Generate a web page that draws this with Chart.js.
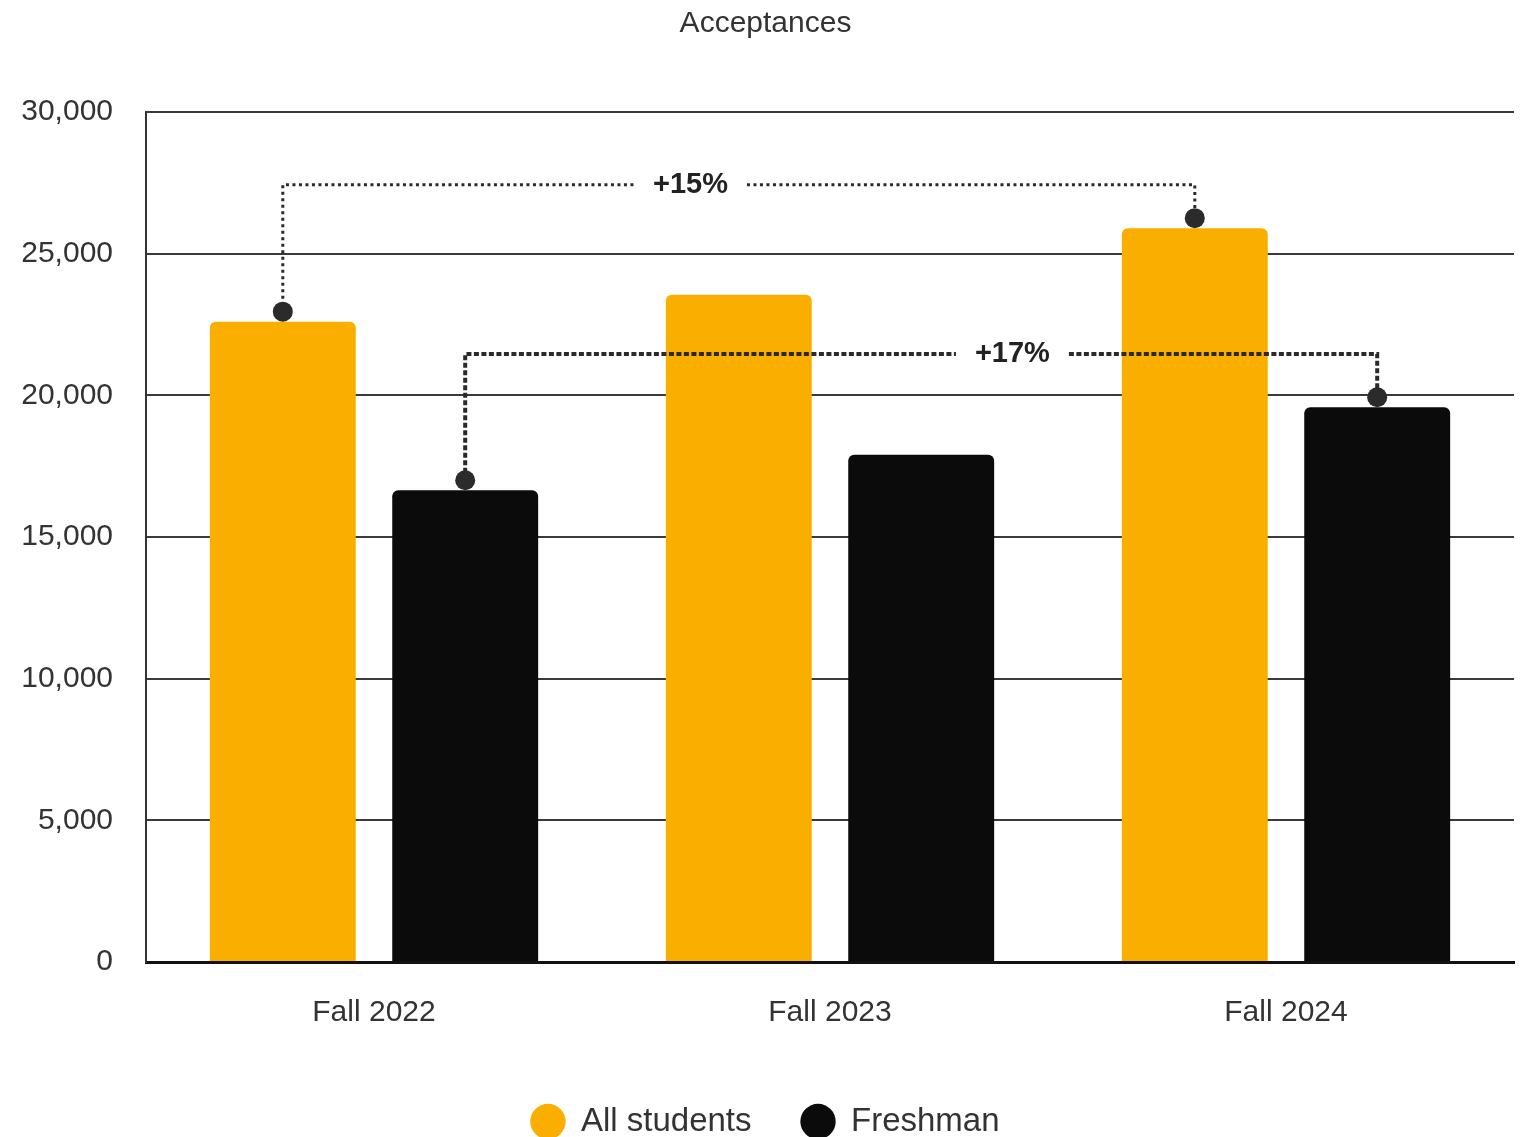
<!DOCTYPE html>
<html>
<head>
<meta charset="utf-8">
<title>Acceptances</title>
<script src="https://cdn.jsdelivr.net/npm/chart.js@4.4.1/dist/chart.umd.min.js"></script>
<style>
  html, body { margin: 0; padding: 0; background: #fff; }
  #chart { display: block; }
</style>
</head>
<body>
<canvas id="chart" width="1524" height="1137"></canvas>
<script>
// chart data
var categories = ['Fall 2022', 'Fall 2023', 'Fall 2024'];
var allStudents = [22600, 23550, 25900];
var freshman = [16650, 17900, 19580];
var seriesNames = ['All students', 'Freshman'];

// growth brackets: dataset index and bracket level (y value)
var growthLabels = ['+15%', '+17%'];
var growthSeries = [0, 1];
var growthLevels = [27430, 21460];

var brackets = [
  { dash: [3, 3.5], width: 3, labelAt: 0.447 },
  { dash: [5, 2.5], width: 4, labelAt: 0.6 }
];

var LEGEND_H = 82;

var bracketPlugin = {
  id: 'brackets',
  afterDatasetsDraw: function(chart) {
    var ctx = chart.ctx;
    var y = chart.scales.y;
    for (var i = 0; i < growthLabels.length; i++) {
      var meta = chart.getDatasetMeta(growthSeries[i]);
      var a = meta.data[0], b = meta.data[categories.length - 1];
      var lvl = y.getPixelForValue(growthLevels[i]);
      var st = brackets[i];
      var ax = a.x, ay = a.y - 10, bx = b.x, by = b.y - 10;

      ctx.save();
      ctx.font = 'bold 29px "Liberation Sans", Arial, sans-serif';
      var tw = ctx.measureText(growthLabels[i]).width;
      var lx = ax + (bx - ax) * st.labelAt;
      var gap = tw / 2 + 19;

      ctx.strokeStyle = '#2a2a2a';
      ctx.lineWidth = st.width;
      ctx.setLineDash(st.dash);
      ctx.beginPath();
      ctx.moveTo(ax, ay);
      ctx.lineTo(ax, lvl);
      ctx.lineTo(lx - gap, lvl);
      ctx.stroke();
      ctx.beginPath();
      ctx.moveTo(lx + gap, lvl);
      ctx.lineTo(bx, lvl);
      ctx.lineTo(bx, by);
      ctx.stroke();
      ctx.setLineDash([]);

      ctx.fillStyle = '#2b2b2b';
      [[ax, ay], [bx, by]].forEach(function(p) {
        ctx.beginPath();
        ctx.arc(p[0], p[1], 10, 0, Math.PI * 2);
        ctx.fill();
      });

      ctx.fillStyle = '#222';
      ctx.textAlign = 'center';
      ctx.textBaseline = 'middle';
      ctx.fillText(growthLabels[i], lx, lvl);
      ctx.restore();
    }
  }
};

// keep the legend tight against the bottom edge
var legendFit = {
  id: 'legendFit',
  beforeInit: function(chart) {
    var fit = chart.legend.fit;
    chart.legend.fit = function() {
      fit.call(chart.legend);
      this.height = LEGEND_H;
    };
  }
};

Chart.defaults.font.family = '"Liberation Sans", Arial, sans-serif';
Chart.defaults.color = '#333';

new Chart(document.getElementById('chart'), {
  type: 'bar',
  data: {
    labels: categories,
    datasets: [{
      label: seriesNames[0],
      data: allStudents,
      backgroundColor: '#F9AE00',
      borderWidth: 0,
      borderRadius: 6,
      categoryPercentage: 0.8,
      barPercentage: 0.8
    }, {
      label: seriesNames[1],
      data: freshman,
      backgroundColor: '#0B0B0B',
      borderWidth: 0,
      borderRadius: 6,
      categoryPercentage: 0.8,
      barPercentage: 0.8
    }]
  },
  options: {
    responsive: false,
    animation: false,
    layout: { padding: { left: 17, right: 10, top: 0, bottom: 0 } },
    plugins: {
      title: {
        display: true,
        text: 'Acceptances',
        color: '#333',
        font: { size: 30, weight: 'normal' },
        padding: { top: 6, bottom: 70 }
      },
      legend: {
        position: 'bottom',
        labels: {
          usePointStyle: true,
          pointStyle: 'circle',
          boxWidth: 33,
          boxHeight: 25,
          padding: 50,
          color: '#333',
          font: { size: 33 }
        }
      },
      tooltip: { enabled: false }
    },
    scales: {
      x: {
        z: 1,
        grid: { display: false },
        border: { display: true, color: '#111', width: 3 },
        ticks: { padding: 25, color: '#333', font: { size: 30 } },
        afterFit: function(scale) { scale.height = 1137 - LEGEND_H - 962; }
      },
      y: {
        min: 0,
        max: 30000,
        ticks: {
          stepSize: 5000,
          padding: 33,
          color: '#333',
          font: { size: 30 },
          callback: function(v) { return v.toLocaleString('en-US'); }
        },
        grid: { color: '#3a3a3a', lineWidth: 2, drawTicks: false },
        border: { display: true, color: '#333', width: 2 },
        afterFit: function(scale) { scale.width = 129; }
      }
    }
  },
  plugins: [bracketPlugin, legendFit]
});
</script>
</body>
</html>
